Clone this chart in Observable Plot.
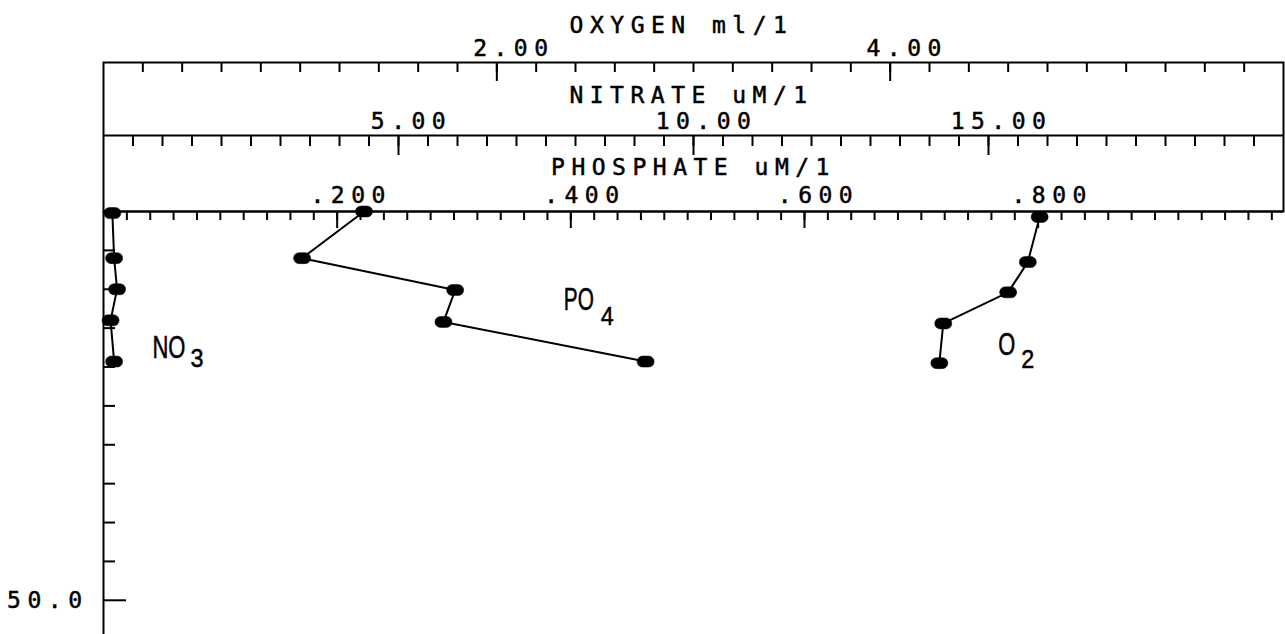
<!DOCTYPE html>
<html><head><meta charset="utf-8">
<script src="https://cdn.jsdelivr.net/npm/d3@7"></script>
<script src="https://cdn.jsdelivr.net/npm/@observablehq/plot@0.6"></script>
<style>
body{margin:0;background:#fff}
#chart{position:relative;width:1285px;height:634px;background:#fff}
#chart svg{position:absolute;left:0;top:0}
#chart text{stroke:black;stroke-width:0.5px}
</style></head><body><div id="chart"></div>
<script>
// ---- data ----
const depthNO3 = [0.2, 6.0, 10.0, 14.0, 19.3];
const nitrate  = [0.15, 0.18, 0.23, 0.12, 0.18];
const depthPO4 = [0.0, 6.0, 10.1, 14.2, 19.3];
const phosphate = [0.223, 0.170, 0.301, 0.291, 0.464];
const depthO2  = [0.7, 6.5, 10.4, 14.4, 19.5];
const oxygen   = [4.76, 4.70, 4.60, 4.27, 4.25];

const oxygenMajorTicks = [2, 4];
const oxygenTickLabels = ["2.00", "4.00"];
const nitrateMajorTicks = [5, 10, 15];
const nitrateTickLabels = ["5.00", "10.00", "15.00"];
const phosphateMajorTicks = [0.2, 0.4, 0.6, 0.8];
const phosphateTickLabels = [".200", ".400", ".600", ".800"];
const depthMinorTicks = [5, 10, 15, 20, 25, 30, 35, 40, 45];
const depthMajorTicks = [50];
const depthTickLabels = ["50.0"];

const axisTitles = ["OXYGEN ml/1", "NITRATE uM/1", "PHOSPHATE uM/1"];
const seriesNames = ["NO", "PO", "O"];
const seriesSubs = ["3", "4", "2"];
const labelX = [0.83, 0.394, 4.55];      // in each series' own x units
const labelDepth = [18.9, 12.7, 18.5];

// ---- layout ----
const W = 1285, H = 634, ML = 103, MR = 2, MT = 211;
const depthDomain = [0, 54.4];
const FONT = "DejaVu Sans Mono";
const oxMinor = d3.range(1, 30).map(i => +(i * 0.2).toFixed(2));
const noMinor = d3.range(1, 40).map(i => i * 0.5);
const poMinor = d3.range(1, 51).map(i => +(i * 0.02).toFixed(2));

const fmt = (ticks, labels) => { const m = new Map(ticks.map((t, i) => [t, labels[i]])); return d => m.get(d); };

const stadium = {
  draw(ctx, size) {
    const r = Math.sqrt(size / Math.PI);
    const h = r, w = r * 1.55;
    ctx.moveTo(-w + h, -h);
    ctx.lineTo(w - h, -h);
    ctx.arc(w - h, 0, h, -Math.PI / 2, Math.PI / 2);
    ctx.lineTo(-w + h, h);
    ctx.arc(-w + h, 0, h, Math.PI / 2, 3 * Math.PI / 2);
    ctx.closePath();
  }
};

function layer(xDomain, marks) {
  return Plot.plot({
    width: W, height: H, marginLeft: ML, marginRight: MR, marginTop: MT, marginBottom: 0,
    x: {domain: xDomain, axis: null},
    y: {domain: depthDomain, reverse: true, axis: null},
    style: {background: "transparent", fontFamily: FONT, letterSpacing: "6.5px", color: "black", overflow: "visible"},
    marks
  });
}

function series(xs, ds, k, subDx, subDy) {
  const pts = xs.map((v, i) => ({x: v, d: ds[i]}));
  return [
    Plot.line(pts, {x: "x", y: "d", stroke: "black", strokeWidth: 2}),
    Plot.dot(pts, {x: "x", y: "d", r: 5.5, symbol: stadium, fill: "black", stroke: "black", strokeWidth: 0.5}),
    Plot.text([k], {x: i => labelX[i], y: i => labelDepth[i], text: i => seriesNames[i],
      lineAnchor: "bottom", textAnchor: "start", fontFamily: "Liberation Sans", fontSize: 31}),
    Plot.text([k], {x: i => labelX[i], y: i => labelDepth[i], text: i => seriesSubs[i],
      dx: subDx, dy: subDy, lineAnchor: "bottom", textAnchor: "start", fontFamily: "Liberation Sans", fontSize: 26})
  ];
}

const tickOpts = {anchor: "top", tickFormat: () => "", strokeWidth: 2, label: null};

// oxygen layer
const oxPlot = layer([0, 6], [
  Plot.frame({insetTop: -149, insetBottom: H - MT, stroke: "black", strokeWidth: 2}),
  Plot.axisX(oxMinor, {...tickOpts, tickSize: -9, dy: -149}),
  Plot.axisX(oxygenMajorTicks, {...tickOpts, tickSize: -18, dy: -149}),
  Plot.axisX(oxygenMajorTicks, {anchor: "top", tickSize: 0, tickPadding: 7, dy: -149, dx: 17, fontSize: 23,
    tickFormat: fmt(oxygenMajorTicks, oxygenTickLabels), label: null}),
  Plot.text([axisTitles[0]], {frameAnchor: "top", lineAnchor: "bottom", dy: -179, dx: -12, fontSize: 23, text: d => d}),
  ...series(oxygen, depthO2, 2, 23, 13)
]);

// nitrate layer
const noPlot = layer([0, 20], [
  Plot.ruleY([0], {dy: -76, stroke: "black", strokeWidth: 2}),
  Plot.axisX(noMinor, {...tickOpts, tickSize: -10, dy: -76}),
  Plot.axisX(nitrateMajorTicks, {...tickOpts, tickSize: -19, dy: -76}),
  Plot.axisX(nitrateMajorTicks, {anchor: "top", tickSize: 0, tickPadding: 7, dy: -76, dx: 13, fontSize: 23,
    tickFormat: fmt(nitrateMajorTicks, nitrateTickLabels), label: null}),
  Plot.text([axisTitles[1]], {frameAnchor: "top", lineAnchor: "bottom", dy: -109, dx: -2, fontSize: 23, text: d => d}),
  ...series(nitrate, depthNO3, 0, 38, 9)
]);

// phosphate layer (with depth axis)
const poPlot = layer([0, 1.01], [
  Plot.ruleX([0], {stroke: "black", strokeWidth: 2}),
  Plot.ruleY([0], {stroke: "black", strokeWidth: 2}),
  Plot.axisX(poMinor, {...tickOpts, tickSize: -8}),
  Plot.axisX(phosphateMajorTicks, {...tickOpts, tickSize: -16}),
  Plot.axisX(phosphateMajorTicks, {anchor: "top", tickSize: 0, tickPadding: 9, dx: 14, fontSize: 23,
    tickFormat: fmt(phosphateMajorTicks, phosphateTickLabels), label: null}),
  Plot.text([axisTitles[2]], {frameAnchor: "top", lineAnchor: "bottom", dy: -37, dx: 0, fontSize: 23, text: d => d}),
  Plot.axisY(depthMinorTicks, {anchor: "left", tickSize: -12, tickFormat: () => "", strokeWidth: 2, label: null}),
  Plot.axisY(depthMajorTicks, {anchor: "left", tickSize: -23, tickFormat: () => "", strokeWidth: 2, label: null}),
  Plot.axisY(depthMajorTicks, {anchor: "left", tickSize: 0, tickPadding: 15, fontSize: 23,
    tickFormat: fmt(depthMajorTicks, depthTickLabels), label: null}),
  ...series(phosphate, depthPO4, 1, 37, 15)
]);

const chart = document.getElementById("chart");
chart.append(poPlot, noPlot, oxPlot);

// condense the hand-lettered species labels
const mainLen = {"NO": 33, "PO": 30, "O": 17};
const subLen = {"3": 13, "4": 13, "2": 13};
chart.querySelectorAll("text").forEach(t => {
  const s = t.textContent;
  const L = mainLen[s] ?? subLen[s];
  if (L !== undefined) {
    t.style.letterSpacing = "0px";
    t.setAttribute("letter-spacing", "0");
    t.setAttribute("textLength", L);
    t.setAttribute("lengthAdjust", "spacingAndGlyphs");
  }
});
</script></body></html>
